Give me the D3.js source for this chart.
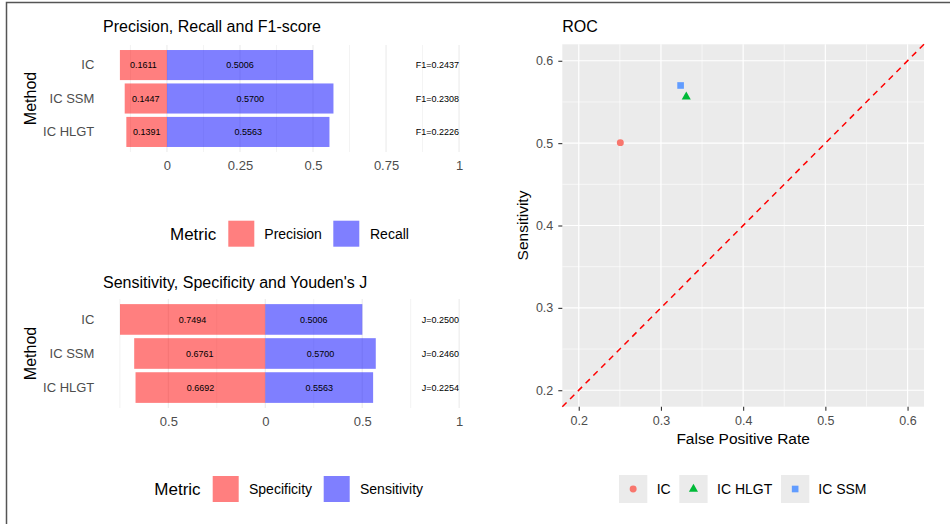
<!DOCTYPE html>
<html>
<head>
<meta charset="utf-8">
<script src="https://cdn.jsdelivr.net/npm/d3@7"></script>
<style>
  html, body { margin: 0; padding: 0; background: #fff; }
  svg { display: block; font-family: "Liberation Sans", Arial, Helvetica, sans-serif; }
</style>
</head>
<body>
<svg id="chart" width="950" height="524"></svg>
<script>
// ---------------- data ----------------
const methods = ["IC", "IC SSM", "IC HLGT"];
const precision = [0.1611, 0.1447, 0.1391];
const recall = [0.5006, 0.5700, 0.5563];
const f1 = [0.2437, 0.2308, 0.2226];
const specificity = [0.7494, 0.6761, 0.6692];
const sensitivity = [0.5006, 0.5700, 0.5563];
const youdenJ = [0.2500, 0.2460, 0.2254];
const topTicks = [0, 0.25, 0.5, 0.75, 1];
const topTickLabels = ["0", "0.25", "0.5", "0.75", "1"];
const botTicks = [-0.5, 0, 0.5, 1];
const botTickLabels = ["0.5", "0", "0.5", "1"];
const rocOrder = ["IC", "IC HLGT", "IC SSM"];
const rocColors = ["#F8766D", "#00BA38", "#619CFF"];
const rocShapes = ["circle", "triangle", "square"];
const rocTicks = [0.2, 0.3, 0.4, 0.5, 0.6];

const svg = d3.select("#chart");
const TICK = "#4D4D4D";
const RED = "rgba(255,0,0,0.5)";
const BLUE = "rgba(0,0,255,0.5)";

// frame
svg.append("path").attr("d", "M6.5,524 L6.5,2.5 L950,2.5")
  .attr("fill", "none").attr("stroke", "#555").attr("stroke-width", 1.5);

// ---------------- diverging bar panel ----------------
function barPanel(opt) {
  const g = svg.append("g");
  const x = d3.scaleLinear().domain(opt.xdom).range([103, 476]);
  const y = d3.scaleBand().domain(methods).range([opt.top, opt.bottom])
    .paddingInner(0.1).paddingOuter(0.15);

  // title
  g.append("text").attr("x", 103).attr("y", opt.titleY)
    .attr("font-size", 16).attr("fill", "#000").text(opt.title);

  // grid
  g.selectAll(".minor").data(opt.minor).join("line")
    .attr("x1", d => x(d)).attr("x2", d => x(d))
    .attr("y1", opt.top).attr("y2", opt.bottom)
    .attr("stroke", "#EBEBEB").attr("stroke-width", 0.6);
  g.selectAll(".major").data(opt.ticks).join("line")
    .attr("x1", d => x(d)).attr("x2", d => x(d))
    .attr("y1", opt.top).attr("y2", opt.bottom)
    .attr("stroke", "#EBEBEB").attr("stroke-width", 1.1);

  // bars: left metric (negative side)
  g.selectAll(".lbar").data(methods).join("rect")
    .attr("x", (d, i) => x(-opt.left[i])).attr("width", (d, i) => x(0) - x(-opt.left[i]))
    .attr("y", d => y(d)).attr("height", y.bandwidth())
    .attr("fill", RED);
  g.selectAll(".rbar").data(methods).join("rect")
    .attr("x", x(0)).attr("width", (d, i) => x(opt.right[i]) - x(0))
    .attr("y", d => y(d)).attr("height", y.bandwidth())
    .attr("fill", BLUE);

  // value labels
  g.selectAll(".llab").data(methods).join("text")
    .attr("x", (d, i) => x(-opt.left[i] / 2)).attr("y", d => y(d) + y.bandwidth() / 2)
    .attr("dy", "0.35em").attr("text-anchor", "middle").attr("font-size", 9)
    .text((d, i) => opt.left[i].toFixed(4));
  g.selectAll(".rlab").data(methods).join("text")
    .attr("x", (d, i) => x(opt.right[i] / 2)).attr("y", d => y(d) + y.bandwidth() / 2)
    .attr("dy", "0.35em").attr("text-anchor", "middle").attr("font-size", 9)
    .text((d, i) => opt.right[i].toFixed(4));
  g.selectAll(".slab").data(methods).join("text")
    .attr("x", x(1)).attr("y", d => y(d) + y.bandwidth() / 2)
    .attr("dy", "0.35em").attr("text-anchor", "end").attr("font-size", 9)
    .text((d, i) => opt.statName + "=" + opt.stat[i].toFixed(4));

  // axes
  const xa = g.append("g").attr("transform", `translate(0,${opt.bottom})`)
    .call(d3.axisBottom(x).tickValues(opt.ticks).tickSize(0).tickPadding(opt.xPad)
      .tickFormat((d, i) => opt.tickLabels[i]));
  xa.select(".domain").remove();
  xa.selectAll("text").attr("font-size", 13).attr("fill", TICK).attr("font-family", null);

  const ya = g.append("g").attr("transform", "translate(103,0)")
    .call(d3.axisLeft(y).tickSize(0).tickPadding(8.7));
  ya.select(".domain").remove();
  ya.selectAll("text").attr("font-size", 13).attr("fill", TICK).attr("font-family", null);

  // axis title
  const cy = (opt.top + opt.bottom) / 2;
  g.append("text").attr("transform", `translate(36,${cy}) rotate(-90)`)
    .attr("text-anchor", "middle").attr("font-size", 16).text("Method");

  // legend
  const L = opt.legend;
  g.append("text").attr("x", L.titleX).attr("y", L.cy).attr("dy", "0.36em")
    .attr("font-size", 17).text("Metric");
  L.items.forEach((it, i) => {
    g.append("rect").attr("x", it.kx).attr("y", L.cy - 13).attr("width", 26).attr("height", 26)
      .attr("fill", i === 0 ? RED : BLUE);
    g.append("text").attr("x", it.tx).attr("y", L.cy).attr("dy", "0.36em")
      .attr("font-size", 14).text(it.label);
  });
}

barPanel({
  title: "Precision, Recall and F1-score", titleY: 31.5,
  xdom: [-0.219, 1.058], top: 45, bottom: 152,
  ticks: topTicks, tickLabels: topTickLabels,
  minor: [-0.125, 0.125, 0.375, 0.625, 0.875],
  left: precision, right: recall, stat: f1, statName: "F1",
  xPad: 8.8,
  legend: { titleX: 170, cy: 233.7, items: [
    { kx: 228.3, tx: 264.3, label: "Precision" },
    { kx: 333.3, tx: 370, label: "Recall" }] }
});

barPanel({
  title: "Sensitivity, Specificity and Youden's J", titleY: 287.5,
  xdom: [-0.837, 1.087], top: 299, bottom: 408,
  ticks: botTicks, tickLabels: botTickLabels,
  minor: [-0.75, -0.25, 0.25, 0.75],
  left: specificity, right: sensitivity, stat: youdenJ, statName: "J",
  xPad: 8.3,
  legend: { titleX: 154.3, cy: 489, items: [
    { kx: 212.7, tx: 249, label: "Specificity" },
    { kx: 323.7, tx: 360, label: "Sensitivity" }] }
});

// ---------------- ROC panel ----------------
(function () {
  const g = svg.append("g");
  const L = 562.3, R = 924, T = 44.3, B = 406.7;
  const x = d3.scaleLinear().domain([0.18, 0.62]).range([L, R]);
  const y = d3.scaleLinear().domain([0.18, 0.62]).range([B, T]);

  g.append("text").attr("x", L).attr("y", 31.5).attr("font-size", 16).text("ROC");

  g.append("rect").attr("x", L).attr("y", T).attr("width", R - L).attr("height", B - T)
    .attr("fill", "#EBEBEB");

  const minor = [0.25, 0.35, 0.45, 0.55];
  g.selectAll(".vmin").data(minor).join("line")
    .attr("x1", d => x(d)).attr("x2", d => x(d)).attr("y1", T).attr("y2", B)
    .attr("stroke", "#fff").attr("stroke-width", 0.6);
  g.selectAll(".hmin").data(minor).join("line")
    .attr("y1", d => y(d)).attr("y2", d => y(d)).attr("x1", L).attr("x2", R)
    .attr("stroke", "#fff").attr("stroke-width", 0.6);
  g.selectAll(".vmaj").data(rocTicks).join("line")
    .attr("x1", d => x(d)).attr("x2", d => x(d)).attr("y1", T).attr("y2", B)
    .attr("stroke", "#fff").attr("stroke-width", 1.2);
  g.selectAll(".hmaj").data(rocTicks).join("line")
    .attr("y1", d => y(d)).attr("y2", d => y(d)).attr("x1", L).attr("x2", R)
    .attr("stroke", "#fff").attr("stroke-width", 1.2);

  // diagonal
  g.append("line").attr("x1", x(0.18)).attr("y1", y(0.18)).attr("x2", x(0.62)).attr("y2", y(0.62))
    .attr("stroke", "#FF0000").attr("stroke-width", 1.5).attr("stroke-dasharray", "6,5");

  // points
  const pts = methods.map((m, i) => ({ m, fpr: 1 - specificity[i], sens: sensitivity[i] }));
  function shapePath(shape) {
    if (shape === "circle") return d3.symbol(d3.symbolCircle, 38)();
    if (shape === "triangle") return d3.symbol(d3.symbolTriangle, 36)();
    return d3.symbol(d3.symbolSquare, 44)();
  }
  g.selectAll(".pt").data(pts).join("path")
    .attr("transform", d => `translate(${x(d.fpr)},${y(d.sens)})`)
    .attr("d", d => shapePath(rocShapes[rocOrder.indexOf(d.m)]))
    .attr("fill", d => rocColors[rocOrder.indexOf(d.m)]);

  // axes
  const xa = g.append("g").attr("transform", `translate(0,${B})`)
    .call(d3.axisBottom(x).tickValues(rocTicks).tickSize(4).tickPadding(5.4).tickFormat(d3.format(".1f")));
  xa.select(".domain").remove();
  xa.selectAll("line").attr("stroke", "#333").attr("stroke-width", 1.1);
  xa.selectAll("text").attr("font-size", 12.5).attr("fill", TICK).attr("font-family", null);

  const ya = g.append("g").attr("transform", `translate(${L},0)`)
    .call(d3.axisLeft(y).tickValues(rocTicks).tickSize(4).tickPadding(5).tickFormat(d3.format(".1f")));
  ya.select(".domain").remove();
  ya.selectAll("line").attr("stroke", "#333").attr("stroke-width", 1.1);
  ya.selectAll("text").attr("font-size", 12.5).attr("fill", TICK).attr("font-family", null);

  g.append("text").attr("x", (L + R) / 2).attr("y", 444).attr("text-anchor", "middle")
    .attr("font-size", 15.5).text("False Positive Rate");
  g.append("text").attr("transform", `translate(527.5,${(T + B) / 2}) rotate(-90)`)
    .attr("text-anchor", "middle").attr("font-size", 15.5).text("Sensitivity");

  // legend
  const keys = [619, 679.3, 781];
  const labs = [656.7, 717, 818.3];
  const cy = 489;
  rocOrder.forEach((m, i) => {
    g.append("rect").attr("x", keys[i]).attr("y", cy - 14).attr("width", 28.3).attr("height", 28)
      .attr("fill", "#EBEBEB");
    g.append("path").attr("transform", `translate(${keys[i] + 14.15},${cy})`)
      .attr("d", shapePath(rocShapes[i])).attr("fill", rocColors[i]);
    g.append("text").attr("x", labs[i]).attr("y", cy).attr("dy", "0.36em")
      .attr("font-size", 14).text(m);
  });
})();
</script>
</body>
</html>
